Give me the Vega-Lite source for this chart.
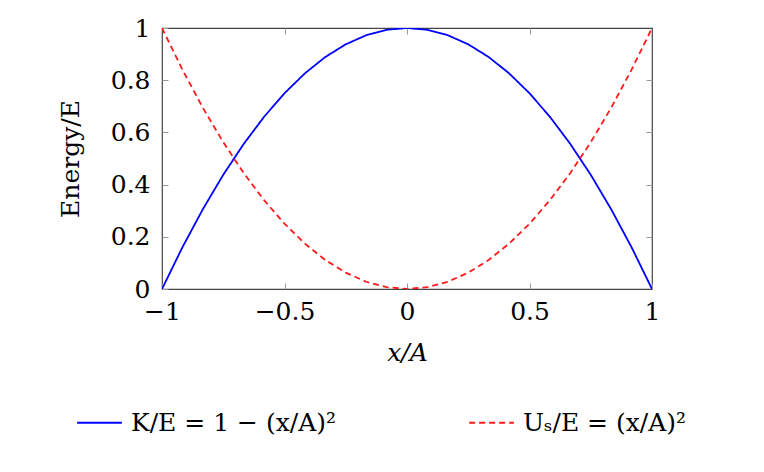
{
  "$schema": "https://vega.github.io/schema/vega-lite/v6.json",
  "width": 490,
  "height": 261,
  "autosize": "none",
  "padding": {"left": 162, "top": 28, "right": 112, "bottom": 183},
  "background": "white",
  "config": {
    "font": "DejaVu Serif",
    "view": {"stroke": "#444", "strokeWidth": 1.2},
    "axis": {
      "labelFont": "DejaVu Serif",
      "titleFont": "DejaVu Serif",
      "labelFontSize": 25,
      "titleFontSize": 25,
      "titleFontWeight": "normal",
      "labelColor": "black",
      "titleColor": "black",
      "grid": false,
      "domain": false,
      "tickColor": "#999",
      "tickSize": -6,
      "tickWidth": 1
    },
    "legend": {
      "labelFont": "DejaVu Serif",
      "labelFontSize": 25,
      "labelColor": "black",
      "labelLimit": 600
    }
  },
  "data": {
    "values": [
      {"x": -1, "y": 0, "s": "K"},
      {"x": -0.916667, "y": 0.159722, "s": "K"},
      {"x": -0.833333, "y": 0.305556, "s": "K"},
      {"x": -0.75, "y": 0.4375, "s": "K"},
      {"x": -0.666667, "y": 0.555556, "s": "K"},
      {"x": -0.583333, "y": 0.659722, "s": "K"},
      {"x": -0.5, "y": 0.75, "s": "K"},
      {"x": -0.416667, "y": 0.826389, "s": "K"},
      {"x": -0.333333, "y": 0.888889, "s": "K"},
      {"x": -0.25, "y": 0.9375, "s": "K"},
      {"x": -0.166667, "y": 0.972222, "s": "K"},
      {"x": -0.083333, "y": 0.993056, "s": "K"},
      {"x": 0, "y": 1, "s": "K"},
      {"x": 0.083333, "y": 0.993056, "s": "K"},
      {"x": 0.166667, "y": 0.972222, "s": "K"},
      {"x": 0.25, "y": 0.9375, "s": "K"},
      {"x": 0.333333, "y": 0.888889, "s": "K"},
      {"x": 0.416667, "y": 0.826389, "s": "K"},
      {"x": 0.5, "y": 0.75, "s": "K"},
      {"x": 0.583333, "y": 0.659722, "s": "K"},
      {"x": 0.666667, "y": 0.555556, "s": "K"},
      {"x": 0.75, "y": 0.4375, "s": "K"},
      {"x": 0.833333, "y": 0.305556, "s": "K"},
      {"x": 0.916667, "y": 0.159722, "s": "K"},
      {"x": 1, "y": 0, "s": "K"},
      {"x": -1, "y": 1, "s": "U"},
      {"x": -0.916667, "y": 0.840278, "s": "U"},
      {"x": -0.833333, "y": 0.694444, "s": "U"},
      {"x": -0.75, "y": 0.5625, "s": "U"},
      {"x": -0.666667, "y": 0.444444, "s": "U"},
      {"x": -0.583333, "y": 0.340278, "s": "U"},
      {"x": -0.5, "y": 0.25, "s": "U"},
      {"x": -0.416667, "y": 0.173611, "s": "U"},
      {"x": -0.333333, "y": 0.111111, "s": "U"},
      {"x": -0.25, "y": 0.0625, "s": "U"},
      {"x": -0.166667, "y": 0.027778, "s": "U"},
      {"x": -0.083333, "y": 0.006944, "s": "U"},
      {"x": 0, "y": 0, "s": "U"},
      {"x": 0.083333, "y": 0.006944, "s": "U"},
      {"x": 0.166667, "y": 0.027778, "s": "U"},
      {"x": 0.25, "y": 0.0625, "s": "U"},
      {"x": 0.333333, "y": 0.111111, "s": "U"},
      {"x": 0.416667, "y": 0.173611, "s": "U"},
      {"x": 0.5, "y": 0.25, "s": "U"},
      {"x": 0.583333, "y": 0.340278, "s": "U"},
      {"x": 0.666667, "y": 0.444444, "s": "U"},
      {"x": 0.75, "y": 0.5625, "s": "U"},
      {"x": 0.833333, "y": 0.694444, "s": "U"},
      {"x": 0.916667, "y": 0.840278, "s": "U"},
      {"x": 1, "y": 1, "s": "U"}
    ]
  },
  "layer": [
    {
      "mark": {"type": "line", "strokeWidth": 1.8, "clip": true},
      "encoding": {
        "x": {
          "field": "x", "type": "quantitative",
          "scale": {"domain": [-1, 1], "nice": false, "zero": false},
          "axis": {"values": [-1, -0.5, 0, 0.5, 1], "format": "~g", "title": "x/A", "titleFontStyle": "italic", "labelPadding": 16, "titlePadding": 16, "labelFlush": false}
        },
        "y": {
          "field": "y", "type": "quantitative",
          "scale": {"domain": [0, 1], "nice": false},
          "axis": {"values": [0, 0.2, 0.4, 0.6, 0.8, 1], "format": "~g", "title": "Energy/E", "labelPadding": 18, "titlePadding": 27, "labelFlush": false}
        },
        "color": {
          "field": "s", "type": "nominal",
          "scale": {"domain": ["K", "U"], "range": ["#0000ff", "#ff1a1a"]},
          "legend": {
            "orient": "none",
            "legendX": -86,
            "legendY": 371,
            "direction": "horizontal",
            "columns": 2,
            "title": null,
            "symbolType": "stroke",
            "symbolSize": 2000,
            "symbolStrokeWidth": 1.8,
            "columnPadding": 128,
            "labelOffset": 8,
            "labelFont": "DejaVu Serif",
            "labelExpr": "datum.value == 'K' ? 'K/E = 1 − (x/A)²' : 'Uₛ/E = (x/A)²'"
          }
        },
        "strokeDash": {
          "field": "s", "type": "nominal",
          "scale": {"domain": ["K", "U"], "range": [[1, 0], [6, 4]]},
          "legend": null
        }
      }
    },
    {
      "mark": {"type": "line", "opacity": 0},
      "encoding": {
        "x": {
          "field": "x", "type": "quantitative",
          "axis": {"orient": "top", "values": [-0.5, 0, 0.5], "labels": false, "title": null}
        },
        "y": {
          "field": "y", "type": "quantitative",
          "axis": {"orient": "right", "values": [0.2, 0.4, 0.6, 0.8], "labels": false, "title": null}
        },
        "detail": {"field": "s"}
      }
    }
  ],
  "resolve": {"axis": {"x": "independent", "y": "independent"}}
}
